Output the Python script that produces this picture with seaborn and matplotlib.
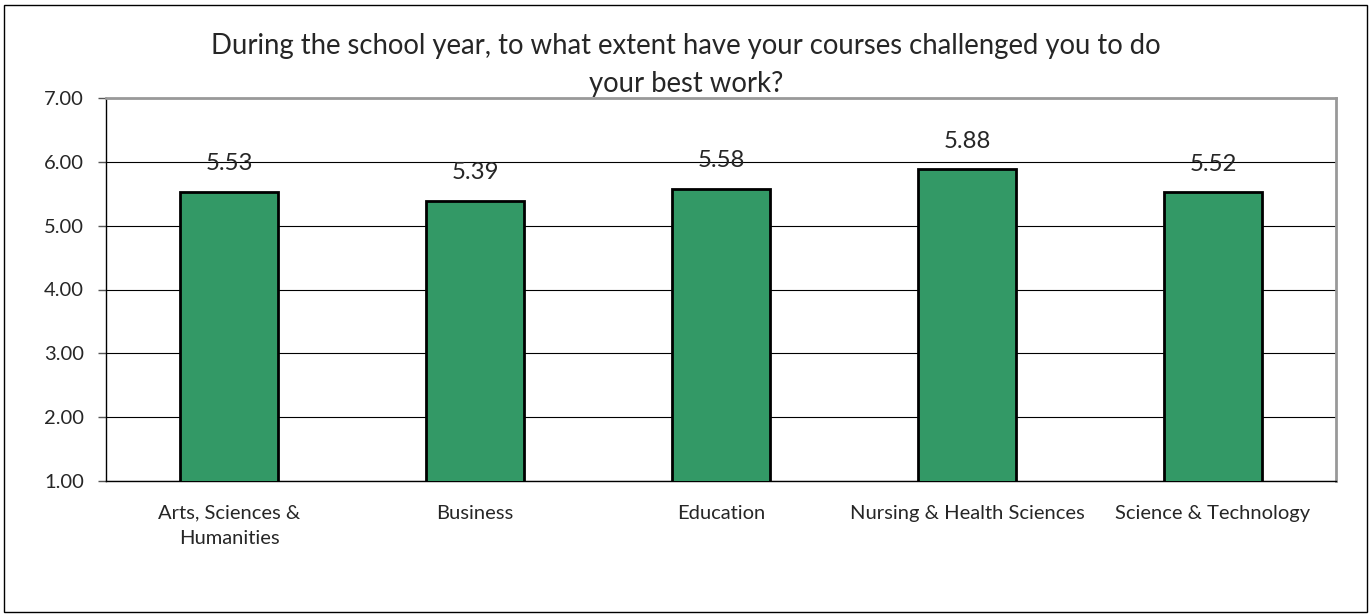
import matplotlib
matplotlib.use("Agg")
import matplotlib.pyplot as plt
import seaborn as sns
import pandas as pd
import numpy as np
from matplotlib.patches import Rectangle

categories = ["Arts, Sciences &\nHumanities", "Business", "Education",
              "Nursing & Health Sciences", "Science & Technology"]
values = [5.53, 5.39, 5.58, 5.88, 5.52]
y_ticks = [1.00, 2.00, 3.00, 4.00, 5.00, 6.00, 7.00]
title = "During the school year, to what extent have your courses challenged you to do\nyour best work?"

sns.set_theme(style="white")
plt.rcParams['font.family'] = ['Lato', 'DejaVu Sans']

fig = plt.figure(figsize=(13.72, 6.15), dpi=100)
W, H = 1372, 615
ax = fig.add_axes([106 / W, 1 - 481 / H, (1336 - 106) / W, (481 - 98) / H])

df = pd.DataFrame({"cat": categories, "val": values})
sns.barplot(data=df, x="cat", y="val", ax=ax, color="#339966", width=0.4,
            edgecolor="black", linewidth=2, saturation=1, zorder=3)

ax.set_ylim(1, 7)
ax.set_xlim(-0.5, len(categories) - 0.5)
ax.set_yticks(y_ticks)
ax.set_yticklabels([f"{t:.2f}" for t in y_ticks], fontsize=14.5)
ax.yaxis.grid(True, color="black", linewidth=0.8, zorder=0)
ax.set_axisbelow(True)
ax.set_xlabel("")
ax.set_ylabel("")
ax.tick_params(axis="x", which="major", length=0, labelsize=14.5, pad=17)
for lbl in ax.get_xticklabels():
    lbl.set_linespacing(1.6)
ax.set_xticks(np.arange(len(categories) + 1) - 0.5, minor=True)
ax.tick_params(axis="x", which="minor", length=6, color="#555555", width=1, direction="out")
ax.tick_params(axis="y", which="major", length=6, color="#555555", width=1, direction="out", pad=10, left=True)

for s in ["left", "bottom"]:
    ax.spines[s].set_color("black")
    ax.spines[s].set_linewidth(1)
for s in ["top", "right"]:
    ax.spines[s].set_color("#999999")
    ax.spines[s].set_linewidth(2)

for i, v in enumerate(values):
    ax.annotate(f"{v:.2f}", (i, v), xytext=(0, 28), textcoords="offset pixels",
                ha="center", va="center", fontsize=17.3)

fig.text(0.5, 1 - 65 / H, title, ha="center", va="center", fontsize=19.8,
         linespacing=1.55)

fig.patches.append(Rectangle((4 / W, 3 / H), 1363 / W, 607 / H, transform=fig.transFigure,
                             fill=False, edgecolor="black", linewidth=1))

fig.savefig("out.png", dpi=100)
